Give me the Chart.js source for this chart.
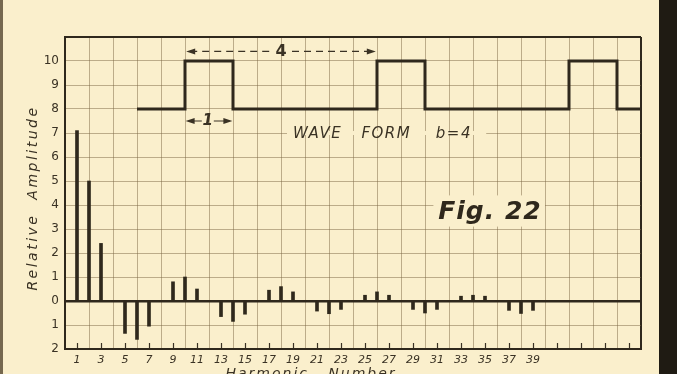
<!DOCTYPE html>
<html>
<head>
<meta charset="utf-8">
<script src="https://cdn.jsdelivr.net/npm/chart.js@4/dist/chart.umd.min.js"></script>
<style>
    html, body { margin: 0; padding: 0; background: #faefcc; }
    #wrap { position: relative; width: 677px; height: 374px; overflow: hidden; }
    #leftEdge { position: absolute; left: 0; top: 0; width: 3px; height: 374px; background: #75684f; }
    #rightEdge { position: absolute; left: 659px; top: 0; width: 18px; height: 374px; background: #1f1b13; }
    canvas { position: absolute; left: 0; top: 0; }
</style>
</head>
<body>
<div id="wrap">
    <div id="leftEdge"></div>
    <div id="rightEdge"></div>
    <canvas id="harmonicChart" width="677" height="374"></canvas>
</div>
<script>
let harmonics = [
    1, 2, 3, 4, 5, 6, 7, 8, 9, 10,
    11, 12, 13, 14, 15, 16, 17, 18, 19, 20,
    21, 22, 23, 24, 25, 26, 27, 28, 29, 30,
    31, 32, 33, 34, 35, 36, 37, 38, 39
];

let amplitudes = [
    7.1, 5.0, 2.4, 0, -1.35, -1.6, -1.05, 0, 0.8, 1.0,
    0.5, 0, -0.65, -0.85, -0.55, 0, 0.45, 0.6, 0.38, 0,
    -0.42, -0.53, -0.35, 0, 0.24, 0.38, 0.24, 0, -0.35, -0.5,
    -0.35, 0, 0.2, 0.24, 0.2, 0, -0.39, -0.52, -0.39
];

// square wave, drawn as steps (value holds until the next x)
let waveX = [6, 10, 14, 26, 30, 42, 46, 48];
let waveY = [8, 10, 8, 10, 8, 10, 8, 8];

let xTickLabels = [1, 3, 5, 7, 9, 11, 13, 15, 17, 19, 21, 23, 25, 27, 29, 31, 33, 35, 37, 39];
let xTickMarks = [1, 3, 5, 7, 9, 11, 13, 15, 17, 19, 21, 23, 25, 27, 29, 31, 33, 35, 37, 39, 41, 43, 45, 47];
let yTickValues = [-2, -1, 0, 1, 2, 3, 4, 5, 6, 7, 8, 9, 10];
let yTickLabels = ["2", "1", "0", "1", "2", "3", "4", "5", "6", "7", "8", "9", "10"];

const ink = "#2f281c";
const textInk = "#3a3224";
const gridInk = "rgba(125, 105, 70, 0.5)";
const paper = "#faefcc";
const clear = "rgba(0,0,0,0)";

function arrowHead(ctx, x, y, dir) {
    ctx.beginPath();
    ctx.moveTo(x, y);
    ctx.lineTo(x - dir * 9, y - 3);
    ctx.lineTo(x - dir * 9, y + 3);
    ctx.closePath();
    ctx.fill();
}

const annotations = {
    id: "annotations",
    afterDatasetsDraw(chart) {
        const ctx = chart.ctx;
        const x = chart.scales.x;
        const y = chart.scales.y;
        ctx.save();
        ctx.fillStyle = textInk;
        ctx.strokeStyle = textInk;

        // period arrow  <- - - 4 - - ->
        const py = y.getPixelForValue(10.4);
        const px1 = x.getPixelForValue(10.1);
        const px2 = x.getPixelForValue(25.9);
        const pmid = x.getPixelForValue(18);
        ctx.lineWidth = 1.2;
        ctx.setLineDash([7, 5]);
        ctx.beginPath();
        ctx.moveTo(px1 + 4, py);
        ctx.lineTo(pmid - 11, py);
        ctx.moveTo(pmid + 11, py);
        ctx.lineTo(px2 - 4, py);
        ctx.stroke();
        ctx.setLineDash([]);
        arrowHead(ctx, px1, py, -1);
        arrowHead(ctx, px2, py, 1);
        ctx.font = "bold 16px 'DejaVu Sans'";
        ctx.textAlign = "center";
        ctx.textBaseline = "middle";
        ctx.fillText("4", pmid, py);

        // pulse width arrow  <-1->
        const wy = y.getPixelForValue(7.5);
        const wx1 = x.getPixelForValue(10.05);
        const wx2 = x.getPixelForValue(13.95);
        const wmid = x.getPixelForValue(11.9);
        ctx.beginPath();
        ctx.moveTo(wx1 + 4, wy);
        ctx.lineTo(wmid - 6, wy);
        ctx.moveTo(wmid + 6, wy);
        ctx.lineTo(wx2 - 4, wy);
        ctx.stroke();
        arrowHead(ctx, wx1, wy, -1);
        arrowHead(ctx, wx2, wy, 1);
        ctx.font = "italic bold 15px 'DejaVu Sans'";
        ctx.fillText("1", wmid, wy);

        // WAVE FORM b=4
        const ty = y.getPixelForValue(7);
        ctx.fillStyle = paper;
        ctx.fillRect(x.getPixelForValue(18.5), ty - 2, x.getPixelForValue(35.1) - x.getPixelForValue(18.5), 4);
        ctx.fillStyle = textInk;
        ctx.font = "italic 15px 'DejaVu Sans'";
        ctx.textAlign = "left";
        ctx.letterSpacing = "1.5px";
        ctx.fillText("WAVE", x.getPixelForValue(19), ty + 1);
        ctx.fillText("FORM", x.getPixelForValue(24.7), ty + 1);
        ctx.fillText("b=4", x.getPixelForValue(30.9), ty + 1);

        // Fig. 22
        const bx1 = x.getPixelForValue(30.7);
        const bx2 = x.getPixelForValue(40);
        const by1 = y.getPixelForValue(4.4);
        const by2 = y.getPixelForValue(3.1);
        ctx.fillStyle = paper;
        ctx.fillRect(bx1, by1, bx2 - bx1, by2 - by1);
        ctx.fillStyle = ink;
        ctx.font = "italic bold 25px 'DejaVu Sans'";
        ctx.letterSpacing = "1px";
        ctx.textBaseline = "alphabetic";
        ctx.fillText("Fig. 22", x.getPixelForValue(31.1), y.getPixelForValue(3.4));
        ctx.restore();
    },
    afterDraw(chart) {
        const ctx = chart.ctx;
        const area = chart.chartArea;
        ctx.save();
        ctx.fillStyle = textInk;
        ctx.font = "italic 14px 'DejaVu Sans'";
        ctx.letterSpacing = "2.5px";
        ctx.textAlign = "center";
        ctx.textBaseline = "middle";

        // y axis title
        ctx.save();
        ctx.translate(33, (area.top + area.bottom) / 2 + 5);
        ctx.rotate(-Math.PI / 2);
        ctx.fillText("Relative  Amplitude", 0, 0);
        ctx.restore();

        // x axis title (cut by the page bottom, as in the scan)
        ctx.letterSpacing = "2px";
        ctx.fillText("Harmonic   Number", chart.scales.x.getPixelForValue(20.5), area.bottom + 25);
        ctx.restore();
    }
};

new Chart(document.getElementById("harmonicChart"), {
    type: "bar",
    data: {
        datasets: [{
            type: "line",
            data: waveX.map((v, i) => ({ x: v, y: waveY[i] })),
            stepped: "before",
            borderColor: ink,
            borderWidth: 3,
            pointRadius: 0,
            fill: false
        }, {
            type: "bar",
            data: harmonics.map((h, i) => ({ x: h, y: amplitudes[i] })),
            backgroundColor: ink,
            barThickness: 3
        }]
    },
    options: {
        responsive: false,
        animation: false,
        layout: {
            padding: { top: 37, right: 36, bottom: 0, left: 0 }
        },
        plugins: {
            legend: { display: false },
            tooltip: { enabled: false }
        },
        scales: {
            x: {
                type: "linear",
                min: 0,
                max: 48,
                offset: false,
                afterFit: (scale) => { scale.height = 25; },
                grid: {
                    offset: false,
                    color: (c) => {
                        const v = c.tick.value;
                        if (v === 0 || v === 48) return ink;
                        return v % 2 === 0 ? gridInk : clear;
                    },
                    lineWidth: (c) => (c.tick.value === 48 ? 2 : 1),
                    drawTicks: true,
                    tickLength: -6,
                    tickWidth: 1.2,
                    tickColor: (c) => (xTickMarks.includes(c.tick.value) ? textInk : clear)
                },
                border: { color: ink, width: 2 },
                ticks: {
                    stepSize: 1,
                    autoSkip: false,
                    maxRotation: 0,
                    padding: 11,
                    color: textInk,
                    font: { family: "'DejaVu Sans'", size: 11, style: "italic" },
                    callback: (v) => (xTickLabels.includes(v) ? String(v) : "")
                }
            },
            y: {
                min: -2,
                max: 11,
                afterFit: (scale) => { scale.width = 65; },
                grid: {
                    color: (c) => {
                        const v = c.tick.value;
                        return v === 0 || v === 11 ? ink : gridInk;
                    },
                    lineWidth: (c) => {
                        const v = c.tick.value;
                        if (v === 0) return 2.5;
                        return v === 11 ? 2 : 1;
                    },
                    drawTicks: false
                },
                border: { color: ink, width: 2 },
                ticks: {
                    stepSize: 1,
                    padding: 6,
                    color: textInk,
                    font: { family: "'DejaVu Sans'", size: 12 },
                    callback: (v) => {
                        const i = yTickValues.indexOf(v);
                        return i >= 0 ? yTickLabels[i] : "";
                    }
                }
            }
        }
    },
    plugins: [annotations]
});
</script>
</body>
</html>
